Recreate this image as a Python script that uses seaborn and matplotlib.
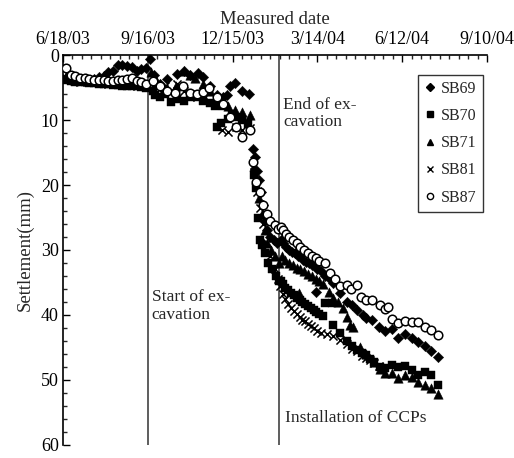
import matplotlib
matplotlib.use("Agg")
import matplotlib.pyplot as plt
import numpy as np
import pandas as pd
import seaborn as sns
from matplotlib.lines import Line2D

# Survey start date; all readings are given as days after this date
survey_start = pd.Timestamp("2003-06-18")
axis_end = pd.Timestamp("2004-09-10")
tick_dates = ["2003-06-18", "2003-09-16", "2003-12-15", "2004-03-14", "2004-06-12", "2004-09-10"]
tick_labels = ["6/18/03", "9/16/03", "12/15/03", "3/14/04", "6/12/04", "9/10/04"]
excavation_start = "2003-09-16"
excavation_end = "2004-02-02"

early_days = [3, 8, 13, 18, 23, 28, 33, 38, 43, 48, 53, 58, 63, 68, 73, 78, 83, 88]

sb69_days = early_days + [92, 97, 103, 110, 121, 128, 135, 143, 149, 156, 163, 170, 174, 177, 182, 190, 197,
                          202, 204, 206, 208, 210, 212, 214, 217, 220, 224, 227,
                          231, 234, 237, 240, 243, 246, 249, 252, 255, 258, 261, 264, 267, 269, 270, 274, 278,
                          283, 287, 294, 301, 307, 312, 318, 322, 328, 335, 342, 349, 356, 363, 370, 377, 384,
                          391, 398]
sb69_mm = [3.6, 3.7, 3.8, 3.9, 3.8, 3.9, 3.7, 3.4, 3.2, 2.6, 2.4, 1.6, 1.5, 1.7, 1.9, 2.5, 2.1, 2.0,
           0.6, 3.0, 4.4, 3.7, 2.9, 2.4, 3.1, 2.7, 3.4, 4.8, 6.2, 6.5, 6.2, 4.7, 4.3, 5.6, 6.0,
           14.4, 15.7, 17.8, 19.3, 21.0, 23.0, 25.5, 27.0, 28.0, 28.5, 29.0,
           28.5, 29.0, 29.5, 30.0, 30.3, 30.5, 31.0, 31.0, 31.5, 31.8, 32.0, 32.3, 32.5, 36.5, 33.0, 33.3, 34.0,
           34.5, 35.1, 36.6, 38.0, 38.5, 39.3, 40.0, 40.5, 40.7, 41.9, 42.4, 42.2, 43.6, 42.9, 43.6, 44.2, 44.7,
           45.5, 46.5]

sb70_days = early_days + [95, 98, 103, 108, 115, 121, 128, 135, 142, 149, 156, 161, 163, 168, 170, 175, 179, 184,
                          190, 196,
                          203, 205, 207, 209, 211, 214, 218, 222, 226, 229,
                          231, 233, 236, 239, 242, 245, 248, 251, 254, 257, 260, 263, 266, 269, 272, 276, 278, 285,
                          287, 294, 301, 307, 312, 317, 322, 326, 330, 336, 342, 349, 356, 363, 370, 377, 384,
                          391, 398]
sb70_mm = [3.8, 4.0, 4.1, 4.2, 4.2, 4.3, 4.3, 4.4, 4.4, 4.5, 4.6, 4.6, 4.7, 4.8, 4.7, 4.8, 4.9, 5.0,
           5.5, 6.2, 6.5, 6.0, 7.3, 6.8, 7.0, 6.5, 6.5, 7.0, 7.4, 7.8, 11.1, 10.5, 7.9, 9.8, 9.0, 9.5,
           10.0, 10.6,
           18.5, 20.5, 25.0, 28.5, 29.3, 30.5, 32.0, 33.0, 34.0, 34.7,
           34.8, 35.3, 35.8, 36.2, 36.6, 37.0, 37.4, 37.7, 38.0, 38.3, 38.6, 38.9, 39.2, 39.5, 39.8, 40.2, 38.2,
           38.2, 41.5, 42.8, 44.0, 44.8, 45.4, 45.8, 46.2, 46.8, 47.2, 48.0, 48.2, 47.7, 48.0, 47.9, 48.5, 49.3,
           48.8, 49.3, 50.8]

sb71_days = early_days + [93, 98, 103, 110, 120, 128, 135, 140, 149, 156, 163, 170, 175, 182, 190, 198,
                          203, 205, 208, 211, 214, 217, 221, 225, 229,
                          232, 236, 240, 244, 248, 250, 252, 256, 260, 264, 268, 272, 276, 282, 287, 292, 297,
                          301, 305, 308, 315, 322, 330, 336, 342, 349, 356, 363, 370, 377, 384, 391, 398]
sb71_mm = [3.3, 3.6, 3.8, 3.9, 3.9, 4.0, 4.0, 3.6, 3.7, 3.9, 4.0, 4.1, 4.1, 4.2, 4.3, 4.3, 4.5, 4.6,
           2.6, 3.5, 4.5, 5.0, 4.8, 2.4, 3.1, 3.6, 4.5, 5.5, 6.5, 7.2, 7.8, 8.5, 8.8, 9.3,
           17.0, 19.0, 22.0, 24.5, 27.0, 29.0, 30.0, 31.0, 32.0,
           31.0, 31.5, 32.0, 32.3, 32.7, 36.6, 33.0, 33.3, 33.7, 34.0, 34.4, 34.8, 35.2, 36.5, 37.4, 38.0, 39.0,
           40.3, 41.5, 41.9, 45.0, 46.0, 47.3, 48.3, 48.9, 49.0, 49.7, 49.2, 49.5, 50.3, 50.7, 51.3, 52.2]

sb81_days = early_days + [95, 100, 108, 115, 121, 128, 135, 142, 149, 156, 163, 169, 175, 184, 190, 198,
                          203, 206, 209, 212, 216, 220, 225, 228,
                          230, 233, 236, 239, 242, 245, 248, 251, 254, 257, 260, 263, 266, 270, 274, 280,
                          287, 294, 301, 307, 312, 317, 322, 326, 330, 335]
sb81_mm = [3.6, 3.8, 4.0, 4.1, 4.0, 4.1, 4.2, 4.2, 4.3, 4.4, 4.4, 4.5, 4.6, 4.6, 4.6, 4.7, 4.8, 4.8,
           4.6, 5.0, 4.8, 5.5, 4.5, 5.5, 6.0, 6.5, 6.8, 7.2, 7.5, 11.6, 11.8, 11.1, 11.6, 11.3,
           18.0, 21.0, 23.5, 26.0, 29.0, 31.0, 33.0, 34.5,
           35.5, 36.8, 37.6, 38.3, 38.9, 39.4, 39.9, 40.3, 40.7, 41.0, 41.4, 41.7, 42.0, 42.4, 42.7, 43.0,
           43.2, 43.8, 44.5, 45.2, 45.6, 46.3, 46.6, 47.0, 47.4, 47.8]

sb87_days = early_days + [95, 103, 110, 119, 127, 135, 142, 149, 155, 163, 170, 177, 184, 190, 198,
                          202, 205, 209, 212, 216, 220, 225, 228,
                          231, 234, 237, 240, 244, 248, 252, 256, 260, 264, 268, 272, 278, 283, 289, 294, 301,
                          306, 312, 316, 322, 328, 336, 342, 345, 349, 356, 363, 370, 377, 384, 391, 398]
sb87_mm = [2.0, 3.0, 3.3, 3.5, 3.6, 3.7, 3.8, 3.8, 3.9, 4.0, 4.0, 3.8, 3.9, 3.7, 3.6, 4.0, 4.2, 4.4,
           4.0, 4.8, 5.5, 5.8, 4.8, 5.8, 6.0, 5.7, 5.0, 6.5, 7.5, 9.5, 11.0, 12.6, 11.6,
           16.5, 19.5, 21.0, 23.0, 24.5, 25.5, 26.2, 26.8,
           26.5, 27.0, 27.5, 28.0, 28.5, 29.0, 29.5, 30.0, 30.5, 31.0, 31.3, 31.7, 32.0, 33.5, 34.4, 35.5, 35.4,
           36.0, 35.4, 37.3, 37.7, 37.7, 38.5, 39.1, 38.8, 40.6, 41.2, 40.9, 41.1, 41.1, 41.9, 42.3, 43.1]

series = {
    "SB69": (sb69_days, sb69_mm),
    "SB70": (sb70_days, sb70_mm),
    "SB71": (sb71_days, sb71_mm),
    "SB81": (sb81_days, sb81_mm),
    "SB87": (sb87_days, sb87_mm),
}

frames = []
for name, (days, mm) in series.items():
    frames.append(pd.DataFrame({
        "date": survey_start + pd.to_timedelta(days, unit="D"),
        "settlement": mm,
        "point": name,
    }))
df = pd.concat(frames, ignore_index=True)

marker_style = {
    "SB69": dict(marker="D", s=28, color="black", edgecolor="black", linewidth=0.3),
    "SB70": dict(marker="s", s=40, color="black", edgecolor="black", linewidth=0.3),
    "SB71": dict(marker="^", s=46, color="black", edgecolor="black", linewidth=0.3),
    "SB81": dict(marker="x", s=34, color="black", linewidth=1.1),
    "SB87": dict(marker="o", s=38, facecolor="white", edgecolor="black", linewidth=1.1),
}

sns.set_style("ticks")
plt.rcParams["font.family"] = ["Liberation Serif", "DejaVu Serif"]

fig = plt.figure(figsize=(5.14, 4.58), dpi=100)
ax = fig.add_axes([0.1226, 0.0284, 0.8249, 0.8515])

for name in series:
    sub = df[df["point"] == name]
    sns.scatterplot(data=sub, x="date", y="settlement", ax=ax, legend=False, zorder=3,
                    **marker_style[name])

ax.axvline(pd.Timestamp(excavation_start), color="#505050", lw=1.3, zorder=2)
ax.axvline(pd.Timestamp(excavation_end), color="#505050", lw=1.3, zorder=2)

ax.set_xlim(survey_start, axis_end)
ax.set_ylim(60, 0)

ax.xaxis.tick_top()
ax.xaxis.set_label_position("top")
ax.set_xticks(pd.to_datetime(tick_dates))
ax.set_xticklabels(tick_labels)
ax.set_xticks(pd.date_range(survey_start, axis_end, freq="10D"), minor=True)
ax.set_yticks(np.arange(0, 61, 10))
ax.set_yticks(np.arange(0, 61, 2), minor=True)

ax.tick_params(axis="both", which="major", direction="in", length=5, width=1, labelsize=13,
               colors="black")
ax.tick_params(axis="x", which="major", pad=5)
ax.tick_params(axis="y", which="major", pad=3)
ax.tick_params(axis="both", which="minor", direction="in", length=3, width=1)
ax.tick_params(axis="x", which="both", top=True, bottom=False)

for side in ["right", "bottom"]:
    ax.spines[side].set_visible(False)
for side in ["left", "top"]:
    ax.spines[side].set_linewidth(1.2)
    ax.spines[side].set_color("black")

ax.set_xlabel("Measured date", fontsize=13.5, labelpad=5)
ax.set_ylabel("Settlement(mm)", fontsize=13.5, labelpad=5)

ax.text(pd.Timestamp("2003-09-20"), 36.0, "Start of ex-\ncavation", fontsize=12.5,
        va="top", ha="left", linespacing=1.15)
ax.text(pd.Timestamp("2004-02-07"), 6.4, "End of ex-\ncavation", fontsize=12.5,
        va="top", ha="left", linespacing=1.15)
ax.text(pd.Timestamp("2004-02-09"), 56.5, "Installation of CCPs", fontsize=12.5,
        va="baseline", ha="left")

handles = []
for name in series:
    st = marker_style[name]
    if name == "SB87":
        h = Line2D([], [], ls="none", marker="o", markersize=4.5, markerfacecolor="white",
                   markeredgecolor="black", markeredgewidth=1.0)
    elif name == "SB81":
        h = Line2D([], [], ls="none", marker="x", markersize=4.5, color="black", markeredgewidth=1.0)
    else:
        h = Line2D([], [], ls="none", marker=st["marker"], markersize=4.5, color="black")
    handles.append(h)

leg = ax.legend(handles, list(series.keys()), loc="upper right", bbox_to_anchor=(0.99, 0.95),
                fontsize=11.5, frameon=True, fancybox=False, edgecolor="black",
                handlelength=0.6, handletextpad=0.4, labelspacing=0.7, borderpad=0.4,
                borderaxespad=0)
leg.get_frame().set_linewidth(1.0)

fig.savefig("out.png", dpi=100)
